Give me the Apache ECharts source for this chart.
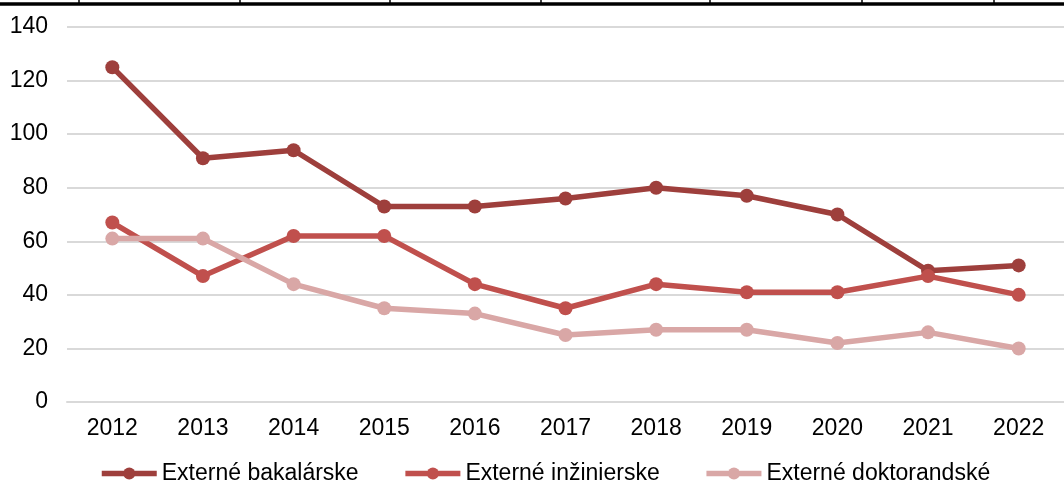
<!DOCTYPE html>
<html>
<head>
<meta charset="utf-8">
<title>Externé štúdium</title>
<script src="https://cdn.jsdelivr.net/npm/echarts@6/dist/echarts.min.js"></script>
<style>
  html, body { margin: 0; padding: 0; background: #fff; }
  #chart { width: 1064px; height: 488px; }
</style>
</head>
<body>
<div id="chart"></div>
<script>
// dáta
var years = ['2012', '2013', '2014', '2015', '2016', '2017', '2018', '2019', '2020', '2021', '2022'];
var bakalarske = [125, 91, 94, 73, 73, 76, 80, 77, 70, 49, 51];
var inzinierske = [67, 47, 62, 62, 44, 35, 44, 41, 41, 47, 40];
var doktorandske = [61, 61, 44, 35, 33, 25, 27, 27, 22, 26, 20];

var font = '"Liberation Sans", Arial, sans-serif';

function lineSeries(name, data, color) {
  return {
    name: name,
    type: 'line',
    data: data,
    symbol: 'circle',
    symbolSize: 14,
    itemStyle: { color: color },
    lineStyle: { color: color, width: 5.5 },
    emphasis: { disabled: true },
    animation: false
  };
}

// horná čiara (okraj tabuľky)
var topTicks = [79, 240, 390, 541, 710, 862, 994];
var graphics = [{
  type: 'line',
  shape: { x1: 0, y1: 4, x2: 1064, y2: 4 },
  style: { stroke: '#000', lineWidth: 3.5 }
}];
topTicks.forEach(function (x) {
  graphics.push({
    type: 'line',
    shape: { x1: x, y1: 0, x2: x, y2: 4 },
    style: { stroke: '#000', lineWidth: 1.5 }
  });
});

var chart = echarts.init(document.getElementById('chart'));
chart.setOption({
  backgroundColor: '#fff',
  animation: false,
  graphic: graphics,
  grid: { left: 67, right: -7, top: 27, height: 375 },
  legend: {
    bottom: -2,
    left: 94,
    itemWidth: 55,
    itemHeight: 15,
    itemGap: 44,
    lineStyle: { width: 5.5 },
    textStyle: { fontFamily: font, fontSize: 23, color: '#000' },
    data: ['Externé bakalárske', 'Externé inžinierske', 'Externé doktorandské']
  },
  xAxis: {
    type: 'category',
    data: years,
    boundaryGap: true,
    axisLine: { lineStyle: { color: '#d9d9d9', width: 2 } },
    axisTick: { show: false },
    axisLabel: { fontFamily: font, fontSize: 23, color: '#000', margin: 15 }
  },
  yAxis: {
    type: 'value',
    min: 0,
    max: 140,
    interval: 20,
    axisLine: { show: false },
    axisTick: { show: false },
    splitLine: { lineStyle: { color: '#d9d9d9', width: 2 } },
    axisLabel: { fontFamily: font, fontSize: 23, color: '#000', margin: 19 }
  },
  series: [
    lineSeries('Externé bakalárske', bakalarske, '#9e3f3c'),
    lineSeries('Externé inžinierske', inzinierske, '#c0504d'),
    lineSeries('Externé doktorandské', doktorandske, '#d9a7a6')
  ]
});
</script>
</body>
</html>
